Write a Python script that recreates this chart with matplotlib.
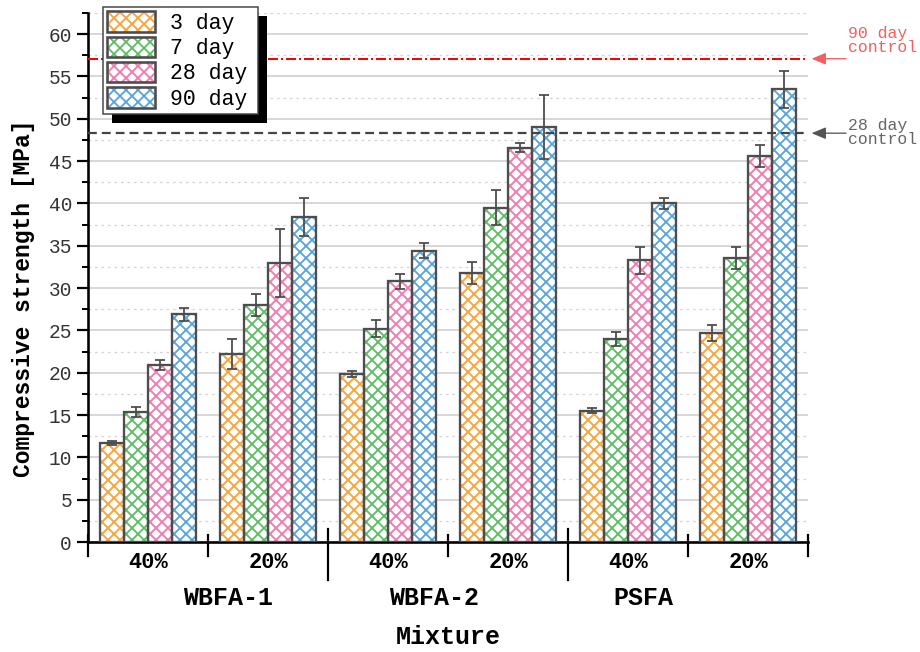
import numpy as np
import matplotlib
matplotlib.use("Agg")
import matplotlib.pyplot as plt
from matplotlib.patches import Patch, Rectangle
from matplotlib.transforms import blended_transform_factory, IdentityTransform

plt.rcParams['font.family'] = ['Liberation Mono', 'DejaVu Sans Mono']
plt.rcParams['hatch.linewidth'] = 1.9

# values (MPa)
mixtures = ['40%', '20%', '40%', '20%', '40%', '20%']
groups = ['WBFA-1', 'WBFA-2', 'PSFA']
ages = ['3 day', '7 day', '28 day', '90 day']

day3 = [11.7, 22.2, 19.8, 31.8, 15.5, 24.7]
day3_err = [0.2, 1.8, 0.35, 1.3, 0.3, 0.9]
day7 = [15.4, 28.0, 25.2, 39.5, 24.0, 33.6]
day7_err = [0.6, 1.3, 1.0, 2.1, 0.8, 1.3]
day28 = [20.9, 33.0, 30.8, 46.6, 33.3, 45.6]
day28_err = [0.6, 4.0, 0.9, 0.5, 1.6, 1.3]
day90 = [26.9, 38.4, 34.4, 49.0, 40.0, 53.5]
day90_err = [0.8, 2.3, 0.9, 3.8, 0.7, 2.2]

control_28 = 48.3
control_90 = 57.1

colors = ['#FAA43A', '#60BD68', '#F17CB0', '#5DA5DA']
edge = '#4d4d4d'

# dpi 72 -> one point is one pixel
W, H = 920, 652
fig = plt.figure(figsize=(W / 72, H / 72), dpi=72)
ax = fig.add_axes([88 / W, 1 - 542 / H, 720 / W, 529 / H])

series = [(day3, day3_err), (day7, day7_err), (day28, day28_err), (day90, day90_err)]
x0 = np.arange(len(mixtures))
bw = 0.2
handles = []
for j, (vals, errs) in enumerate(series):
    xs = x0 + 0.2 + bw * j
    ax.bar(xs, vals, bw, facecolor='white', edgecolor=colors[j], hatch='xx', linewidth=0, zorder=2)
    ax.bar(xs, vals, bw, fill=False, edgecolor=edge, linewidth=2.3, zorder=3)
    ax.errorbar(xs, vals, yerr=errs, fmt='none', ecolor=edge, elinewidth=1.8,
                capsize=5, capthick=1.8, zorder=4)
    handles.append((Patch(facecolor='white', edgecolor=colors[j], hatch='xx', linewidth=0),
                    Patch(fill=False, edgecolor=edge, linewidth=2.6)))

# control lines
ax.axhline(control_90, color='red', linewidth=2, dashes=(5, 1.5, 1, 1.5), zorder=5)
ax.axhline(control_28, color='#444444', linewidth=2.2, dashes=(4, 2.3), zorder=5)

for val, col, tcol, label, ytop in [(control_90, '#f06060', '#f06060', '90 day\ncontrol', 26),
                                    (control_28, '#555555', '#666666', '28 day\ncontrol', 118)]:
    ax.annotate('', xy=(1.005, val), xycoords=('axes fraction', 'data'),
                xytext=(846 / W, val), textcoords=('figure fraction', 'data'),
                arrowprops=dict(arrowstyle='-|>,head_length=0.6,head_width=0.25', color=col,
                                lw=1.3, shrinkA=0, shrinkB=0, mutation_scale=20),
                annotation_clip=False)
    fig.text(848 / W, 1 - ytop / H, label, ha='left', va='top', fontsize=16.5,
             color=tcol, linespacing=0.9)

ax.set_xlim(0, len(mixtures))
ax.set_ylim(0, 62.5)
ax.set_yticks(np.arange(0, 61, 5))
ax.set_yticks(np.arange(2.5, 62.6, 5), minor=True)
ax.tick_params(axis='y', which='major', length=11, width=2.2, labelsize=19.5,
               labelcolor='#333333', pad=5)
ax.tick_params(axis='y', which='minor', length=6, width=2)
ax.grid(axis='y', which='major', color='#d4d4d4', linewidth=1.8, zorder=0)
ax.grid(axis='y', which='minor', color='#d4d4d4', linewidth=1.3, linestyle=(0, (2, 3)), zorder=0)
ax.set_axisbelow(True)

ax.set_xticks([])
for s in ['top', 'right']:
    ax.spines[s].set_visible(False)
for s in ['left', 'bottom']:
    ax.spines[s].set_linewidth(2.6)
    ax.spines[s].set_color('black')

# x-axis separators
tr = blended_transform_factory(ax.transData, ax.transAxes)
px = 1 / 529
for b in [0, 1, 3, 5, 6]:
    ax.plot([b, b], [7 * px, -14 * px], color='black', lw=2.2, transform=tr, clip_on=False)
for b in [2, 4]:
    ax.plot([b, b], [13 * px, -38 * px], color='black', lw=2.2, transform=tr, clip_on=False)

for i, m in enumerate(mixtures):
    ax.text(i + 0.5, -21 * px, m, transform=tr, ha='center', va='center',
            fontsize=22, fontweight='bold')
group_x = [228, 434, 643]
for g, gx in zip(groups, group_x):
    fig.text(gx / W, 1 - 598 / H, g, ha='center', va='center', fontsize=25, fontweight='bold')
fig.text(448 / W, 1 - 637 / H, 'Mixture', ha='center', va='center', fontsize=25,
         fontweight='bold')
ax.set_ylabel('Compressive strength [MPa]', fontsize=23, fontweight='bold')
ax.yaxis.set_label_coords(-0.074, 0.46)

leg = ax.legend(handles, ages, loc='upper left', bbox_to_anchor=(103 / W, 1 - 7 / H),
                bbox_transform=fig.transFigure, fontsize=21.5, frameon=True, fancybox=False,
                framealpha=1, borderaxespad=0, borderpad=0.2,
                handlelength=2.2, handleheight=1.1, labelspacing=0.12, handletextpad=0.7)
leg.get_frame().set_visible(False)
leg.set_zorder(10)

# Origin-style frame with a solid black drop shadow
fig.canvas.draw()
bb = leg.get_window_extent()
box_w = 155
ax.add_patch(Rectangle((bb.x0 + 9, bb.y0 - 9), box_w, bb.height, transform=IdentityTransform(),
                       facecolor='black', edgecolor='none', zorder=9, clip_on=False))
ax.add_patch(Rectangle((bb.x0, bb.y0), box_w, bb.height, transform=IdentityTransform(),
                       facecolor='white', edgecolor='#444444', linewidth=1.5, zorder=9.5,
                       clip_on=False))

fig.savefig('out.png', dpi=72)
